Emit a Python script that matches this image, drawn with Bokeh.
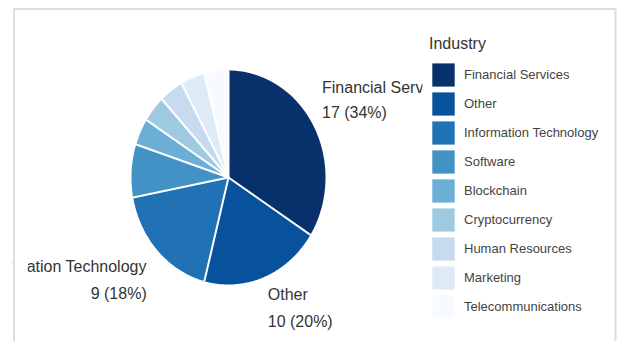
import numpy as np
from bokeh.plotting import figure
from bokeh.models import ColumnDataSource, Range1d, Legend, LegendItem, BoxAnnotation
from bokeh.core.properties import value
from bokeh.embed import file_html
from bokeh.resources import INLINE

# ---- data ----
industries = ["Financial Services", "Other", "Information Technology", "Software",
              "Blockchain", "Cryptocurrency", "Human Resources", "Marketing",
              "Telecommunications"]
counts = [17, 10, 9, 4, 2, 2, 2, 2, 2]
colors = ["#08306b", "#08519c", "#2171b5", "#4292c6", "#6baed6",
          "#9ecae1", "#c6dbef", "#deebf7", "#f7fbff"]
legend_title = "Industry"

# ---- layout (canvas px) ----
W, H = 619, 341
CX, CY = 228, 177          # pie centre
RX, RY = 97, 107           # pie radii
FRAME_L = 12               # plot frame starts at the grey box line
PIE_L, PIE_R = 27, 422     # visible area of the pie panel (labels clipped there)
FONT = "Liberation Sans"

p = figure(width=W, height=H, output_backend="svg", toolbar_location=None,
           x_axis_type=None, y_axis_type=None,
           min_border=0, min_border_left=FRAME_L,
           x_range=Range1d(FRAME_L - CX, W - CX),
           y_range=Range1d(CY - H, CY))
p.grid.visible = False
p.outline_line_color = None
p.background_fill_color = "white"
p.border_fill_color = "white"

vals = np.array(counts, dtype=float)
frac = vals / vals.sum()
ends = np.cumsum(frac) * 2 * np.pi
starts = ends - frac * 2 * np.pi

xs, ys = [], []
for a0, a1 in zip(starts, ends):
    t = np.linspace(a0, a1, 60)
    xs.append(np.concatenate([[0.0], RX * np.sin(t)]).tolist())
    ys.append(np.concatenate([[0.0], RY * np.cos(t)]).tolist())

src = ColumnDataSource(dict(xs=xs, ys=ys, color=colors, industry=industries))
r = p.patches("xs", "ys", source=src, fill_color="color", line_color=None)

# white separators between slices
p.segment(x0=[0.0] * len(starts), y0=[0.0] * len(starts),
          x1=(RX * np.sin(starts)).tolist(), y1=(RY * np.cos(starts)).tolist(),
          line_color="white", line_width=2)

# slice labels (only big slices)
for i, (name, c, f, a0, a1) in enumerate(zip(industries, counts, frac, starts, ends)):
    if f < 0.1:
        continue
    m = (a0 + a1) / 2
    px = 1.1 * RX * np.sin(m)
    py = 1.1 * RY * np.cos(m)
    right_side = np.sin(m) > 0
    align = "left" if right_side else "right"
    xoff = 0 if right_side else -4
    if np.cos(m) > 0:
        off1, off2 = -33, -8
    else:
        off1, off2 = 8, 35
    for txt, off in ((name, off1), (f"{c} ({f:.0%})", off2)):
        p.text(x=[px], y=[py], text=[txt], text_align=align,
               text_baseline="middle", x_offset=xoff, y_offset=off,
               text_font=value(FONT), text_font_size="16px",
               text_color="#333333")

# clip the pie panel (labels are cut at its edges)
p.quad(left=[-CX - 60, PIE_R - CX], right=[PIE_L - CX, PIE_R + 40 - CX],
       top=[CY + 10, CY - 74], bottom=[CY - H - 10, CY - 100],
       fill_color="white", line_color=None)

items = [LegendItem(label=industries[i], renderers=[r], index=i)
         for i in range(len(industries))]
legend = Legend(items=items, location=(429 - FRAME_L, 20), title=legend_title,
                glyph_width=28, glyph_height=29, spacing=0, label_standoff=7,
                padding=0, margin=0, border_line_color=None,
                background_fill_alpha=0,
                label_text_font=FONT, label_text_font_size="13px",
                label_text_color="#444444", label_height=26,
                title_text_font=FONT, title_text_font_size="16px",
                title_text_font_style="normal", title_text_color="#333333",
                title_standoff=7)
p.add_layout(legend)

border = BoxAnnotation(left=13.5, right=615, top=8.5, bottom=H + 20,
                       left_units="canvas", right_units="canvas",
                       top_units="canvas", bottom_units="canvas",
                       fill_color=None, line_color="#8a8a8a", line_width=2)
p.add_layout(border)

open("out.html", "w").write(file_html(p, INLINE))
